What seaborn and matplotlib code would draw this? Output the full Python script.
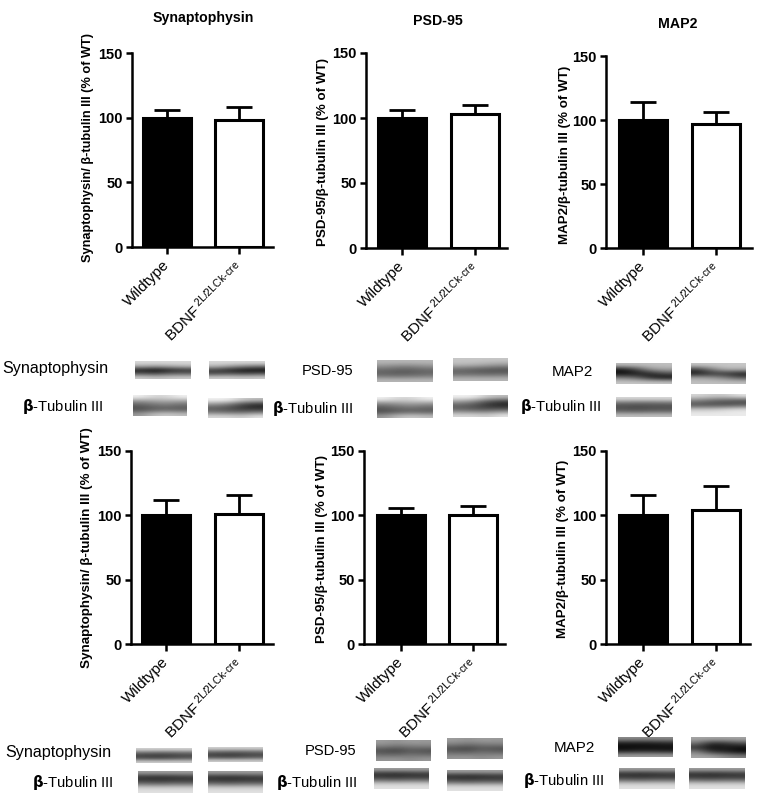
#!/usr/bin/env python3
import matplotlib
matplotlib.use('Agg')
import matplotlib.pyplot as plt
from matplotlib.transforms import ScaledTranslation
import pandas as pd
import seaborn as sns

W, H = 758, 800

groups = ['Wildtype', 'BDNF$\\,^{2L/2LCk\\text{-}cre}$']
titles = ['Synaptophysin', 'PSD-95', 'MAP2']
ylabels = ['Synaptophysin/ β-tubulin III (% of WT)',
           'PSD-95/β-tubulin III (% of WT)',
           'MAP2/β-tubulin III (% of WT)']

# values, top row then bottom row
top_means = [[100, 98], [100, 103], [100, 97]]
top_errs = [[6, 10], [6, 7], [14, 9]]
bottom_means = [[100, 101], [100, 100], [100, 104]]
bottom_errs = [[12, 15], [6, 7], [16, 19]]

y_ticks = [0, 50, 100, 150]

# blot strips: grey levels, rows top to bottom, columns left to right
syn_a = [[.85] * 4, [.65, .6, .65, .7], [.12, .05, .15, .2], [.35, .3, .4, .4], [.8, .75, .78, .8]]
syn_b = [[.85] * 4, [.7, .6, .5, .45], [.25, .15, .08, .05], [.3, .35, .3, .35], [.8, .8, .78, .8]]
tub_a = [[.95, .85, .85, .95], [.55, .6, .65, .6], [.35, .42, .45, .4], [.3, .35, .38, .35], [.6, .75, .8, .75]]
tub_b = [[.95, .95, .8, .75], [.6, .5, .3, .2], [.35, .3, .2, .15], [.45, .4, .4, .45], [.85, .85, .8, .9]]
psd_a = [[.72] * 4, [.55, .5, .5, .55], [.38, .35, .35, .38], [.42, .4, .42, .45], [.72] * 4]
psd_b = [[.78] * 4, [.72, .7, .65, .6], [.4, .35, .32, .3], [.42, .42, .4, .42], [.72] * 4]
map_a = [[.75] * 4, [.1, .3, .6, .65], [.05, .1, .15, .3], [.5, .4, .15, .05], [.78] * 4]
map_b = [[.78] * 4, [.25, .5, .7, .7], [.1, .2, .2, .1], [.65, .6, .5, .35], [.75] * 4]
map_tub = [[.85] * 4, [.42, .4, .4, .42], [.3, .28, .3, .3], [.38, .35, .38, .38], [.75] * 4]
map_tub_b = [[.85, .8, .8, .9], [.5, .4, .35, .3], [.3, .3, .3, .35], [.8, .8, .85, .9], [.92] * 4]
low_band = [[.82] * 4, [.45, .42, .42, .45], [.25, .22, .25, .28], [.35, .32, .35, .38], [.8] * 4]
low_tub = [[.62] * 4, [.22, .2, .22, .25], [.22, .2, .22, .22], [.45, .42, .45, .45], [.8] * 4, [.88] * 4]
noisy = [[.62, .58, .62, .6], [.5, .45, .48, .5], [.3, .25, .35, .3], [.42, .4, .45, .42], [.58, .6, .55, .6]]
low_dark = [[.55] * 4, [.12, .1, .12, .15], [.03, .05, .05, .06], [.12, .15, .15, .12], [.62] * 4]
low_dark_b = [[.65] * 4, [.45, .15, .2, .3], [.2, .05, .1, .05], [.5, .2, .15, .05], [.65, .65, .55, .5]]

blot_names = ['Synaptophysin', 'PSD-95', 'MAP2', 'Synaptophysin', 'PSD-95', 'MAP2']


def px_axes(fig, box):
    left, right, top, bottom = box
    return fig.add_axes([left / W, 1 - bottom / H, (right - left) / W, (bottom - top) / H])


def draw_panel(fig, box, centers, label_pos, label_size, ylabel, means, errs):
    ax = px_axes(fig, box)
    df = pd.DataFrame({'group': groups, 'value': means})
    sns.barplot(data=df, x='group', y='value', hue='group', palette=['black', 'white'],
                edgecolor='black', linewidth=2.2, width=0.665, legend=False, errorbar=None, ax=ax)
    ax.errorbar([0, 1], means, yerr=[[0, 0], errs], fmt='none', ecolor='black',
                elinewidth=2, capsize=9.5, capthick=2)
    step = centers[1] - centers[0]
    ax.set_xlim((box[0] - centers[0]) / step, (box[1] - centers[0]) / step)
    ax.set_ylim(0, 150)
    ax.set_yticks(y_ticks)
    ax.set_xlabel('')
    ax.set_ylabel('')
    ax.set_xticks([0, 1])
    ax.set_xticklabels(groups, rotation=45, ha='right', rotation_mode='anchor', fontsize=11)
    ax.tick_params(axis='y', labelsize=10.5, width=1.8, length=4.5, pad=2)
    ax.tick_params(axis='x', width=1.8, length=5, pad=3)
    for t in ax.get_yticklabels():
        t.set_fontweight('bold')
    shift = ScaledTranslation(-5 / 100, 0, fig.dpi_scale_trans)
    for t in ax.get_xticklabels():
        t.set_transform(t.get_transform() + shift)
    for s in ['top', 'right']:
        ax.spines[s].set_visible(False)
    for s in ['left', 'bottom']:
        ax.spines[s].set_linewidth(1.8)
    fig.text(label_pos[0] / W, 1 - label_pos[1] / H, ylabel, rotation=90,
             ha='center', va='center', fontsize=label_size, fontweight='bold')


def strip(ov, x0, x1, y0, y1, profile):
    ov.imshow(profile, cmap='gray', vmin=0, vmax=1, extent=(x0, x1, y1, y0), aspect='auto',
              interpolation='bicubic')


sns.set_style('ticks')
plt.rcParams['font.family'] = ['Liberation Sans', 'DejaVu Sans']
plt.rcParams['mathtext.fontset'] = 'custom'
plt.rcParams['mathtext.rm'] = 'Liberation Sans'
plt.rcParams['mathtext.default'] = 'regular'
plt.rcParams['text.color'] = 'black'
plt.rcParams['axes.edgecolor'] = 'black'
plt.rcParams['xtick.color'] = 'black'
plt.rcParams['ytick.color'] = 'black'
fig = plt.figure(figsize=(W / 100, H / 100), dpi=100)

top_boxes = [(132, 273, 53, 247), (366, 507, 53, 248), (606, 752, 56, 248)]
bottom_boxes = [(131, 273, 451, 644), (364, 505, 451, 644), (606, 750, 451, 644)]
top_centers = [(167, 239), (402, 475), (643, 716)]
bottom_centers = [(166, 239), (401, 473), (643, 716)]
top_label_pos = [(88, 148), (323, 152), (565, 155)]
bottom_label_pos = [(87, 548), (322, 549), (563, 549)]
label_sizes = [9.2, 9.6, 9.6]
bottom_label_sizes = [9.6, 9.6, 9.6]
title_pos = [(203, 18), (438, 21), (678, 24)]

for i in range(3):
    draw_panel(fig, top_boxes[i], top_centers[i], top_label_pos[i], label_sizes[i], ylabels[i],
               top_means[i], top_errs[i])
    draw_panel(fig, bottom_boxes[i], bottom_centers[i], bottom_label_pos[i], bottom_label_sizes[i],
               ylabels[i], bottom_means[i], bottom_errs[i])
    fig.text(title_pos[i][0] / W, 1 - title_pos[i][1] / H, titles[i], ha='center', va='center',
             fontsize=10.2, fontweight='bold')

ov = fig.add_axes([0, 0, 1, 1], zorder=5)
ov.patch.set_alpha(0)

strip(ov, 135, 191, 361, 379, syn_a)
strip(ov, 209, 265, 361, 379, syn_b)
strip(ov, 133, 187, 395, 416, tub_a)
strip(ov, 208, 263, 398, 418, tub_b)
strip(ov, 377, 433, 360, 382, psd_a)
strip(ov, 453, 508, 358, 381, psd_b)
strip(ov, 377, 433, 397, 418, tub_a)
strip(ov, 453, 508, 395, 417, tub_b)
strip(ov, 616, 672, 363, 384, map_a)
strip(ov, 691, 746, 363, 384, map_b)
strip(ov, 616, 672, 397, 417, map_tub)
strip(ov, 691, 746, 394, 416, map_tub_b)
strip(ov, 136, 192, 748, 763, low_band)
strip(ov, 208, 263, 747, 762, low_band)
strip(ov, 138, 193, 771, 793, low_tub)
strip(ov, 208, 263, 771, 793, low_tub)
strip(ov, 376, 431, 740, 761, noisy)
strip(ov, 447, 503, 738, 759, noisy)
strip(ov, 374, 429, 768, 789, low_tub)
strip(ov, 447, 503, 770, 791, low_tub)
strip(ov, 618, 673, 737, 757, low_dark)
strip(ov, 691, 746, 737, 758, low_dark_b)
strip(ov, 619, 675, 768, 789, low_tub)
strip(ov, 689, 745, 768, 789, low_tub)

ov.set_xlim(0, W)
ov.set_ylim(H, 0)
ov.axis('off')

name_x = [108, 353, 593, 111, 356, 595]
name_y = [368, 371, 372, 753, 751, 748]
name_sizes = [11.6, 10.6, 10.9, 11.6, 10.6, 10.9]
tub_x = [103, 353, 601, 113, 357, 604]
tub_y = [406, 408, 406, 783, 783, 781]
for n, x, y, size in zip(blot_names, name_x, name_y, name_sizes):
    ov.text(x, y, n, ha='right', va='center', fontsize=size)
for x, y in zip(tub_x, tub_y):
    ov.text(x, y, '$\\mathbf{β}$-Tubulin III', ha='right', va='center', fontsize=10.7)

plt.savefig('out.png', dpi=100)
plt.close()
